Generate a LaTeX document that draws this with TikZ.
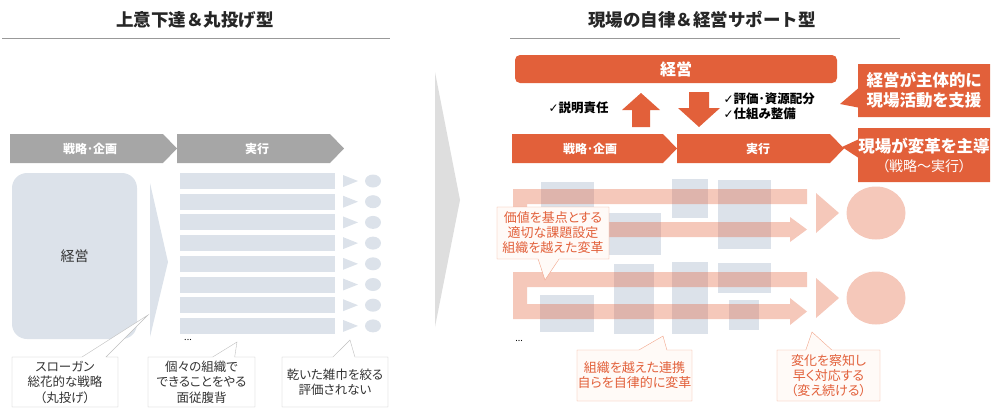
\documentclass[tikz,border=0pt]{standalone}
\usepackage{fontspec}
\setmainfont{Noto Sans CJK JP}[CharacterWidth=AlternateProportional]
\newfontfamily\fullwidth{Noto Sans CJK JP}
\newfontfamily\symfont{DejaVu Sans}
\usetikzlibrary{shapes.callouts}

\definecolor{chevgray}{HTML}{A6A6A6}
\definecolor{paleblue}{HTML}{DCE2EA}
\definecolor{keiei}{HTML}{E2603A}
\definecolor{bigarrow}{HTML}{DEDEDE}
\definecolor{notegray}{HTML}{BFBFBF}
\definecolor{noteorange}{HTML}{F2A58A}
\definecolor{notefill}{HTML}{FFFAF7}

\begin{document}
\begin{tikzpicture}[x=1pt, y=-1pt,
  title/.style={font=\fullwidth\bfseries\fontsize{17.5}{20}\selectfont, text=black!85},
  chevtext/.style={font=\bfseries\fontsize{12}{14}\selectfont, text=white},
  checktext/.style={font=\bfseries\fontsize{12.5}{15}\selectfont, align=left},
  graynote/.style={rectangle callout, draw=notegray, fill=white, align=center,
    inner sep=0pt, font=\fontsize{12.5}{15.5}\selectfont, text=black!80},
  orangenote/.style={rectangle callout, draw=noteorange, fill=notefill, align=center,
    inner sep=0pt, font=\fontsize{13}{15}\selectfont, text=keiei},
  solidnote/.style={rectangle callout, fill=keiei, align=center, inner sep=0pt, text=white},
  pinkfill/.style={fill=keiei, fill opacity=0.35},
]
  \useasboundingbox (0,0) rectangle (1001,413);

  % -- Titles --
  \node[title] (titleL) at (195,20) {上意下達＆丸投げ型};
  \node[title] (titleR) at (702,20) {現場の自律＆経営サポート型};
  \draw[black!40] (2,38) -- (390,38);
  \draw[black!40] (510,38) -- (900,38);

  % -- Left: process chevrons --
  \fill[chevgray] (10,134) -- (163,134) -- (177,148.5) -- (163,163) -- (10,163) -- cycle;
  \fill[chevgray] (177,134) -- (330,134) -- (344,148.5) -- (330,163) -- (177,163) -- cycle;
  \node[chevtext] (planL) at (90,148.5) {戦略･企画};
  \node[chevtext] (doL) at (257,148.5) {実行};

  % -- Left: management block and spread --
  \fill[paleblue, rounded corners=15pt] (12,173) rectangle (137,339);
  \node[font=\fontsize{14}{16}\selectfont, text=black!80] (keieiL) at (74.5,256) {経営};
  \fill[paleblue] (150,183) -- (168,262) -- (150,337) -- cycle;

  % -- Left: separate executions --
  \foreach \i in {0,...,7} {
    \fill[paleblue] (180,{173+20.7*\i}) rectangle (335,{189+20.7*\i});
    \fill[paleblue] (343,{175+20.7*\i}) -- (358,{181+20.7*\i}) -- (343,{187+20.7*\i}) -- cycle;
    \fill[paleblue] (373,{181+20.7*\i}) ellipse [x radius=8pt, y radius=6.5pt];
  }
  \node[font=\fontsize{9}{10}\selectfont] (moreL) at (188,340) {...};

  % -- Left: comments --
  \node[graynote, minimum width=106pt, minimum height=50pt, callout pointer width=24pt,
    callout absolute pointer={(148,315)}] (slogan) at (65,382) {スローガン\\総花的な戦略\\（丸投げ）};
  \node[graynote, minimum width=107pt, minimum height=50pt, callout pointer width=22pt,
    callout absolute pointer={(237,342)}] (silo) at (201.5,382) {個々の組織で\\できることをやる\\面従腹背};
  \node[graynote, minimum width=106pt, minimum height=50pt, callout pointer width=22pt,
    callout absolute pointer={(350,340)}] (squeeze) at (335,382) {乾いた雑巾を絞る\\評価されない};

  % -- Transition arrow --
  \fill[bigarrow] (435,72) -- (460,200) -- (435,327) -- cycle;

  % -- Right: organisation blocks --
  \fill[paleblue] (541,182) rectangle (594,245);
  \fill[paleblue] (594,213) rectangle (661,255);
  \fill[paleblue] (672,179) rectangle (708,218);
  \fill[paleblue] (718,180) rectangle (771,249);
  \fill[paleblue] (540,295) rectangle (594,332);
  \fill[paleblue] (614,264) rectangle (654,334);
  \fill[paleblue] (672,262) rectangle (708,334);
  \fill[paleblue] (718,263) rectangle (771,293);
  \fill[paleblue] (729,300) rectangle (759,330);

  % -- Right: cross-organisation flows --
  \fill[pinkfill] (513,189) -- (807,189) -- (807,204) -- (527,204) -- (527,222) -- (790,222)
    -- (790,217) -- (807,229.5) -- (790,242) -- (790,237) -- (513,237) -- cycle;
  \fill[pinkfill] (513,272) -- (807,272) -- (807,287) -- (527,287) -- (527,304) -- (790,304)
    -- (790,298) -- (807,311.5) -- (790,325) -- (790,319) -- (513,319) -- cycle;
  \fill[pinkfill] (816,193) -- (839,213) -- (816,233) -- cycle;
  \fill[pinkfill] (816,278) -- (839,298) -- (816,318) -- cycle;
  \fill[pinkfill] (876,213) ellipse [x radius=29.5pt, y radius=26.5pt];
  \fill[pinkfill] (876,298) ellipse [x radius=29.5pt, y radius=26.5pt];
  \node[font=\fontsize{9}{10}\selectfont] (moreR) at (519,341) {...};

  % -- Right: comments --
  \node[orangenote, minimum width=112pt, minimum height=52pt, callout pointer width=21pt,
    callout absolute pointer={(545,280)}] (value) at (553,233) {価値を基点とする\\適切な課題設定\\組織を越えた変革};
  \node[orangenote, minimum width=115pt, minimum height=51pt, callout pointer width=28pt,
    callout absolute pointer={(663,336)}] (link) at (634.5,375.5) {組織を越えた連携\\自らを自律的に変革};
  \node[orangenote, minimum width=103pt, minimum height=51pt, callout pointer width=26pt,
    callout absolute pointer={(812,332)}] (adapt) at (828.5,375.5) {変化を察知し\\早く対応する\\（変え続ける）};

  % -- Right: management bar --
  \fill[keiei, rounded corners=5pt] (515,55) rectangle (837,83);
  \node[font=\bfseries\fontsize{16}{18}\selectfont, text=white] (keieiR) at (676,69) {経営};

  % -- Up / down arrows --
  \fill[keiei] (632,127) -- (632,110) -- (622,110) -- (641,93) -- (660,110) -- (650,110) -- (650,127) -- cycle;
  \fill[keiei] (689,92) -- (709,92) -- (709,108) -- (720,108) -- (699,127) -- (678,108) -- (689,108) -- cycle;
  \node[checktext, anchor=west] (account) at (545,108) {{\symfont\fontsize{12}{14}\selectfont ✓}説明責任};
  \node[checktext, anchor=west] (support) at (720,106.5) {{\symfont\fontsize{12}{14}\selectfont ✓}評価･資源配分\\{\symfont\fontsize{12}{14}\selectfont ✓}仕組み整備};

  % -- Right: process chevrons --
  \fill[keiei] (512,134) -- (663,134) -- (677,148.5) -- (663,163) -- (512,163) -- cycle;
  \fill[keiei] (677,134) -- (830,134) -- (844,148.5) -- (830,163) -- (677,163) -- cycle;
  \node[chevtext] (planR) at (590,148.5) {戦略･企画};
  \node[chevtext] (doR) at (758,148.5) {実行};

  % Key messages
  \node[solidnote, minimum width=132pt, minimum height=53pt, callout pointer width=19pt,
    callout absolute pointer={(840,104)}, font=\bfseries\fontsize{16.5}{20}\selectfont]
    (msgTop) at (924,90.5) {経営が主体的に\\現場活動を支援};
  \node[solidnote, minimum width=132pt, minimum height=54pt, callout pointer width=18pt,
    callout absolute pointer={(842,147)}, font=\fontsize{14}{19}\selectfont]
    (msgBottom) at (924,155) {{\bfseries\fontsize{16.5}{19}\selectfont 現場が変革を主導}\\（戦略～実行）};

\end{tikzpicture}
\end{document}
